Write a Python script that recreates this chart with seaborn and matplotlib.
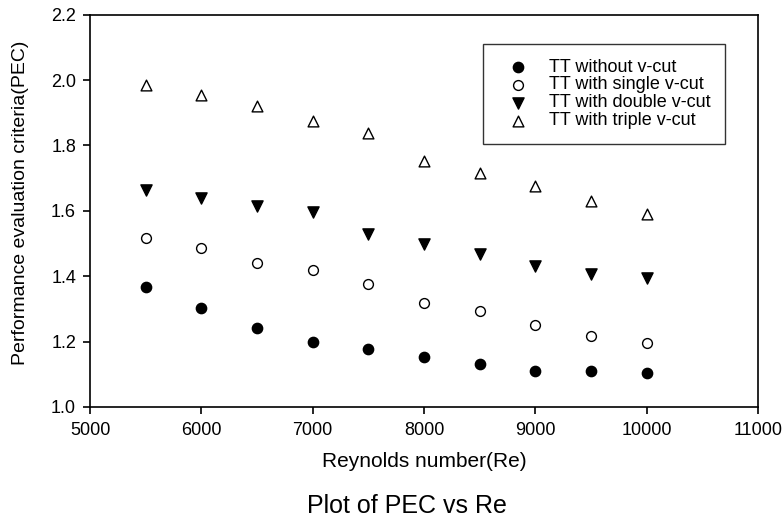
import matplotlib
matplotlib.use("Agg")
import matplotlib.pyplot as plt
import seaborn as sns
import pandas as pd

# Daten
reynolds = [5500, 6000, 6500, 7000, 7500, 8000, 8500, 9000, 9500, 10000]
pec_without = [1.368, 1.302, 1.243, 1.200, 1.177, 1.152, 1.130, 1.110, 1.110, 1.105]
pec_single = [1.516, 1.485, 1.440, 1.418, 1.375, 1.318, 1.293, 1.250, 1.216, 1.196]
pec_double = [1.665, 1.638, 1.616, 1.595, 1.528, 1.498, 1.468, 1.430, 1.408, 1.395]
pec_triple = [1.986, 1.953, 1.920, 1.876, 1.838, 1.753, 1.715, 1.675, 1.630, 1.590]

series_names = ["TT without v-cut", "TT with single v-cut",
                "TT with double v-cut", "TT with triple v-cut"]
series_values = [pec_without, pec_single, pec_double, pec_triple]

df = pd.DataFrame({
    "Re": reynolds * 4,
    "PEC": sum(series_values, []),
    "series": [n for n in series_names for _ in reynolds],
})

# Marker-Stil pro Serie
styles = {
    "TT without v-cut": dict(marker="o", facecolor="black", s=55),
    "TT with single v-cut": dict(marker="o", facecolor="white", s=50),
    "TT with double v-cut": dict(marker="v", facecolor="black", s=65),
    "TT with triple v-cut": dict(marker="^", facecolor="white", s=60),
}

sns.set_style("ticks")
plt.rcParams["font.family"] = ["Liberation Sans", "DejaVu Sans"]
plt.rcParams["text.color"] = "black"
plt.rcParams["axes.labelcolor"] = "black"

fig = plt.figure(figsize=(7.84, 5.18), dpi=100)
ax = fig.add_axes([0.1148, 0.2143, 0.852, 0.7573])

for name in series_names:
    st = styles[name]
    sns.scatterplot(
        data=df[df["series"] == name], x="Re", y="PEC",
        marker=st["marker"], s=st["s"], facecolor=st["facecolor"],
        edgecolor="black", linewidth=1.0, label=name, ax=ax, zorder=3,
    )

ax.set_xlim(5000, 11000)
ax.set_ylim(1.0, 2.2)
ax.set_xticks(range(5000, 11001, 1000))
ax.set_yticks([1.0, 1.2, 1.4, 1.6, 1.8, 2.0, 2.2])
ax.set_yticklabels([f"{v:.1f}" for v in [1.0, 1.2, 1.4, 1.6, 1.8, 2.0, 2.2]])
ax.tick_params(axis="both", direction="out", length=5, width=1.2,
               labelsize=13, colors="black")
ax.tick_params(axis="x", pad=6)
ax.tick_params(axis="y", pad=5)
for sp in ax.spines.values():
    sp.set_visible(True)
    sp.set_linewidth(1.2)
    sp.set_color("black")

ax.set_xlabel("Reynolds number(Re)", fontsize=15, labelpad=9, color="black")
ax.set_ylabel("Performance evaluation criteria(PEC)", fontsize=14, color="black")
ax.yaxis.set_label_coords(-0.092, 0.52)

leg = ax.legend(loc="upper left", bbox_to_anchor=(0.589, 0.925),
                fontsize=13, frameon=True, fancybox=False, edgecolor="black",
                borderpad=0.8, labelspacing=0.05, handletextpad=0.64,
                borderaxespad=0, handlelength=2.18, labelcolor="black")
leg.get_frame().set_linewidth(1.0)

fig.text(0.519, 0.0097, "Plot of PEC vs Re", ha="center", va="baseline",
         fontsize=18, color="black")

fig.savefig("out.png", dpi=100)
